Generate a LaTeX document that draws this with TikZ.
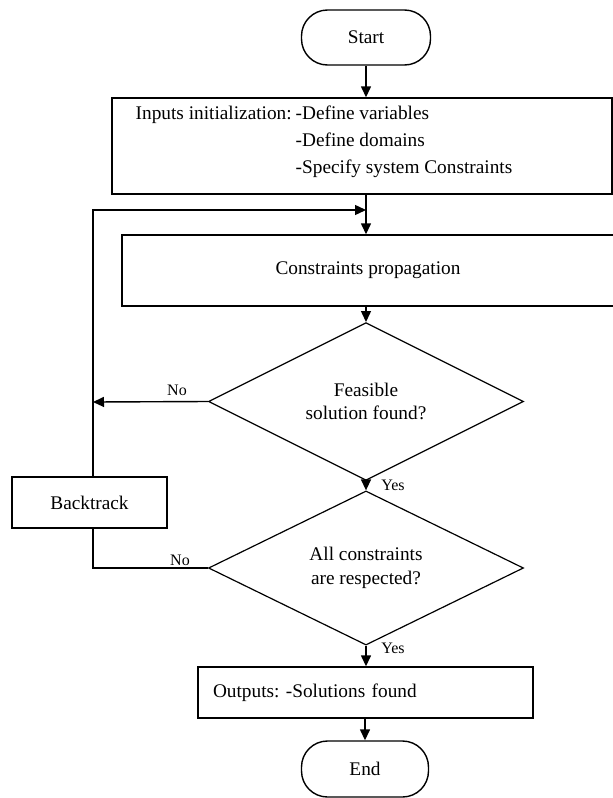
\documentclass[tikz,border=0pt]{standalone}
\usepackage{fontspec}
\setmainfont{Liberation Serif}
\usetikzlibrary{shapes.geometric,arrows.meta}
\frenchspacing
\begin{document}
\begin{tikzpicture}[x=1pt,y=-1pt,
  line width=1.4pt,
  every node/.style={font=\fontsize{19.3}{23.5}\selectfont},
  box/.style={draw, rectangle, inner sep=0pt},
  txt/.style={anchor=base west, inner sep=0pt},
  term/.style={draw, rectangle, rounded corners=26pt, inner sep=0pt, minimum height=55pt},
  dec/.style={draw, diamond, inner sep=0pt, minimum width=315pt, minimum height=141pt, align=center, line width=1.2pt},
  lbl/.style={font=\fontsize{16}{18}\selectfont, inner sep=0pt},
  arr/.style={-{Triangle[length=11pt,width=10pt]}},
]
\useasboundingbox (0,0) rectangle (613,798);

% nodes
\node[term, minimum width=129pt] (start) at (366,37.5) {Start};
\node[box, minimum width=500pt, minimum height=96pt] (init) at (362,146) {};
\node[txt] (initA) at (135,119.5) {Inputs initialization:};
\node[txt] (initB) at (295,119.5) {-Define variables};
\node[txt] (initC) at (295,146.5) {-Define domains};
\node[txt] (initD) at (295,173.5) {-Specify system Constraints};
\node[box, minimum width=492pt, minimum height=71pt] (cons) at (368,270.5) {Constraints propagation};
\node[dec] (d1) at (366,401.5) {Feasible\\solution found?};
\node[dec] (d2) at (366,568) {All constraints\\are respected?};
\node[box, minimum width=155pt, minimum height=51pt] (back) at (89.5,502.5) {Backtrack};
\node[box, minimum height=51pt, text width=305pt, inner xsep=15pt, inner ysep=0pt, align=left] (out) at (365.5,692.5) {Outputs: -Solutions found};
\node[term, minimum width=127pt, minimum height=56pt] (end) at (365,769) {End};

% labels
\node[lbl] (no1) at (177,390) {No};
\node[lbl] (no2) at (180,560) {No};
\node[lbl] (yes1) at (393,485) {Yes};
\node[lbl] (yes2) at (393,648) {Yes};

% junctions
\coordinate (j1) at (93,210);
\coordinate (j2) at (93,402);

% connectors
\draw[arr] (start.south) -- (start.south |- init.north);
\draw[arr] (start |- init.south) -- (start |- cons.north);
\draw[arr] (start |- cons.south) -- (d1.north);
\draw[arr] (d1.south) -- (d2.north);
\draw[arr] (d2.south) -- (d2.south |- out.north);
\draw[arr] (end.north |- out.south) -- (end.north);
\draw[arr] (d1.west) -- (j2);
\draw[arr] (back.north -| j1) -- (j1) -- (j1 -| start);
\draw (d2.west) -- (d2.west -| j1) -- (back.south -| j1);
\end{tikzpicture}
\end{document}
